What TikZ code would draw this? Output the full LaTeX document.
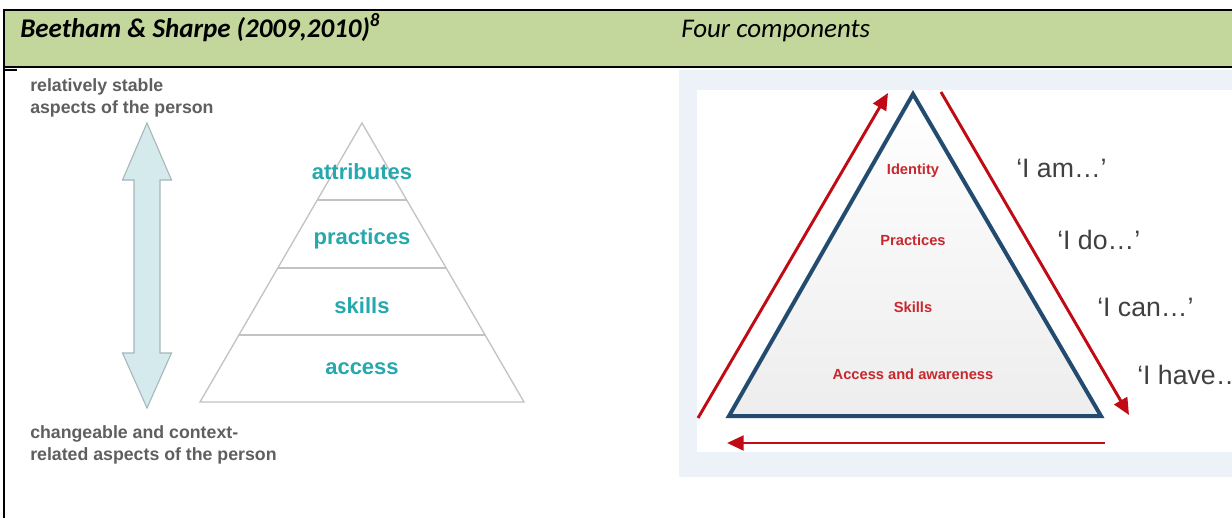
\documentclass[tikz,border=0pt]{standalone}
\usepackage{fontspec}
\setmainfont{Carlito}
\newfontfamily\arialf{Liberation Sans}
\usetikzlibrary{arrows.meta}
\definecolor{hdrgreen}{RGB}{195,214,155}
\definecolor{tealtxt}{RGB}{38,168,174}
\definecolor{txtgray}{RGB}{95,95,95}
\definecolor{arrowfill}{RGB}{212,234,237}
\definecolor{arrowline}{RGB}{165,182,185}
\definecolor{pyrline}{RGB}{195,195,195}
\definecolor{bgblue}{RGB}{237,242,249}
\definecolor{triblue}{RGB}{35,75,112}
\definecolor{darkred}{RGB}{192,10,20}
\definecolor{lblred}{RGB}{200,40,45}
\definecolor{quotegray}{RGB}{64,64,64}
\begin{document}
\begin{tikzpicture}[x=0.75pt,y=-0.75pt,
  hdrtext/.style={anchor=base west,inner sep=0,font=\fontsize{20.25}{24}\selectfont},
  sidetext/.style={anchor=base west,inner sep=0,text=txtgray,font=\arialf\bfseries\fontsize{13.3}{16}\selectfont},
  pyrlabel/.style={anchor=base,inner sep=0,text=tealtxt,font=\arialf\bfseries\fontsize{16.5}{20}\selectfont},
  complabel/.style={anchor=base,inner sep=0,text=lblred,font=\arialf\bfseries\fontsize{11}{13}\selectfont},
  quotelabel/.style={anchor=base west,inner sep=0,text=quotegray,font=\arialf\fontsize{20}{24}\selectfont},
  redarrow/.style={draw=darkred,line width=2.2pt,-{Triangle[length=12.5pt,width=11pt]}},
  pyredge/.style={draw=pyrline,line width=1pt,line join=miter},
  rule/.style={draw=black}
]
\useasboundingbox (0,0) rectangle (1232,518);
\clip (0,0) rectangle (1232,518);
\fill[white] (0,0) rectangle (1232,518);

% header row
\fill[hdrgreen] (4,10) rectangle (1232,67);
\draw[rule,line width=1.9pt] (3,10) -- (1232,10);
\draw[rule,line width=1.1pt] (4,67) -- (1232,67);
\draw[rule,line width=1.8pt] (4,9) -- (4,518);
\draw[rule,line width=1.5pt] (4,69.5) -- (17,69.5);
\node[hdrtext] (hdrleft) at (20,37) {\textbf{\textit{Beetham \& Sharpe (2009,2010)\textsuperscript{8}}}};
\node[hdrtext] (hdrright) at (681,37) {\textit{Four components}};

% left panel texts
\node[sidetext] (stable1) at (30,91) {relatively stable};
\node[sidetext] (stable2) at (30,113) {aspects of the person};
\node[sidetext] (change1) at (30,438) {changeable and context-};
\node[sidetext] (change2) at (30,460) {related aspects of the person};

% double arrow
\draw[fill=arrowfill,draw=arrowline,line width=0.8pt,line join=miter]
  (147,123) -- (171.5,180) -- (160,180) -- (160,353) -- (171.5,353) -- (147,408)
  -- (122.5,353) -- (134,353) -- (134,180) -- (122.5,180) -- cycle;

% pyramid
\coordinate (papex) at (362,123);
\coordinate (pbl) at (200,402);
\coordinate (pbr) at (524,402);
\draw[pyredge] (papex) -- (pbl) -- (pbr) -- cycle;
\draw[pyredge] (317.3,200) -- (406.7,200);
\draw[pyredge] (277.9,268) -- (446.1,268);
\draw[pyredge] (238.4,335) -- (485.6,335);
\node[pyrlabel] (attr) at (362,179) {attributes};
\node[pyrlabel] (prac) at (362,244) {practices};
\node[pyrlabel] (skil) at (362,313) {skills};
\node[pyrlabel] (acce) at (362,374) {access};

% right panel
\fill[bgblue] (679,70) rectangle (1232,477);
\fill[white] (697,90) rectangle (1232,452);
\coordinate (tapex) at (913,94);
\coordinate (tbl) at (729,416);
\coordinate (tbr) at (1101,416);
\shade[top color=white,bottom color=gray!14] (tapex) -- (tbl) -- (tbr) -- cycle;
\draw[triblue,line width=3pt,line join=miter] (tapex) -- (tbl) -- (tbr) -- cycle;

\coordinate (la0) at (698,418);
\coordinate (la1) at (888,93);
\coordinate (ra0) at (941,92);
\coordinate (ra1) at (1129,415);
\coordinate (ba0) at (1105,443);
\coordinate (ba1) at (727,443);
\draw[redarrow] (la0) -- (la1);
\draw[redarrow] (ra0) -- (ra1);
\draw[redarrow] (ba0) -- (ba1);

\node[complabel] (ident) at (913,174) {Identity};
\node[complabel] (rprac) at (913,245) {Practices};
\node[complabel] (rskil) at (913,312) {Skills};
\node[complabel] (racce) at (913,379) {Access and awareness};

\node[quotelabel] (qam) at (1016,177) {‘I am…’};
\node[quotelabel] (qdo) at (1057,249) {‘I do…’};
\node[quotelabel] (qcan) at (1097,316) {‘I can…’};
\node[quotelabel] (qhave) at (1137,384) {‘I have…’};
\end{tikzpicture}
\end{document}
